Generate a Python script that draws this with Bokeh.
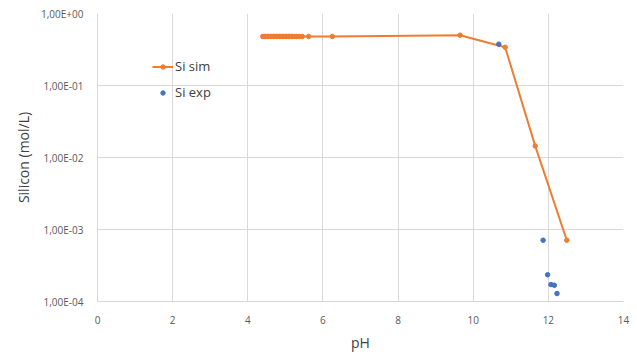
from bokeh.plotting import figure
from bokeh.embed import file_html
from bokeh.resources import INLINE
from bokeh.models import FixedTicker, CustomJSTickFormatter, Legend, LegendItem, Range1d

# Simulated silicon (mol/L) vs pH
sim_ph = [4.40, 4.44, 4.48, 4.52, 4.56, 4.60, 4.64, 4.68, 4.72, 4.76, 4.80, 4.84,
          4.88, 4.92, 4.96, 5.00, 5.04, 5.08, 5.12, 5.16, 5.20, 5.25, 5.30, 5.38,
          5.45, 5.62, 6.25, 9.65, 10.85, 11.65, 12.49]
sim_si = [0.48, 0.48, 0.48, 0.48, 0.48, 0.48, 0.48, 0.48, 0.48, 0.48, 0.48, 0.48,
          0.48, 0.48, 0.48, 0.48, 0.48, 0.48, 0.48, 0.48, 0.48, 0.48, 0.48, 0.48,
          0.48, 0.48, 0.48, 0.50, 0.34, 0.0145, 0.00071]
# Experimental
exp_ph = [10.68, 11.86, 11.98, 12.07, 12.16, 12.23]
exp_si = [0.375, 0.00071, 0.000235, 0.000172, 0.000168, 0.000129]

x_ticks = [0, 2, 4, 6, 8, 10, 12, 14]
y_ticks = [1e-4, 1e-3, 1e-2, 1e-1, 1e0]

ORANGE = "#ED7D31"
BLUE = "#4472C4"
FONT = "Open Sans"

p = figure(width=637, height=354, y_axis_type="log", output_backend="svg",
           toolbar_location=None, x_range=Range1d(0, 14), y_range=Range1d(1e-4, 1),
           min_border_left=97, min_border_right=14, min_border_top=13, min_border_bottom=50)
p.outline_line_color = None
p.background_fill_color = "white"

p.xaxis.ticker = FixedTicker(ticks=x_ticks)
p.yaxis.ticker = FixedTicker(ticks=y_ticks)
p.yaxis.formatter = CustomJSTickFormatter(code="""
var s = tick.toExponential(2).replace('.', ',');
var m = s.match(/^(.*)e([+-])(\\d+)$/);
var e = m[3].length < 2 ? '0' + m[3] : m[3];
return m[1] + 'E' + m[2] + e;
""")

for ax in (p.xaxis[0], p.yaxis[0]):
    ax.axis_line_color = "#d9d9d9"
    ax.major_tick_line_color = None
    ax.minor_tick_line_color = None
    ax.major_label_text_font = FONT
    ax.major_label_text_font_size = "10px"
    ax.major_label_text_color = "#595959"
    ax.axis_label_text_font = FONT
    ax.axis_label_text_font_size = "14px"
    ax.axis_label_text_font_style = "normal"
    ax.axis_label_text_color = "#404040"

p.xaxis.axis_label = "pH"
p.yaxis.axis_label = "Silicon (mol/L)"
p.xaxis.major_label_standoff = 8
p.yaxis.major_label_standoff = 8
p.xaxis.axis_label_standoff = 6

p.xgrid.grid_line_color = "#d9d9d9"
p.ygrid.grid_line_color = "#d9d9d9"
p.ygrid.minor_grid_line_color = None

l1 = p.line(sim_ph, sim_si, line_color=ORANGE, line_width=2)
s1 = p.scatter(sim_ph, sim_si, size=4.5, fill_color=ORANGE, line_color=ORANGE)
s2 = p.scatter(exp_ph, exp_si, size=4.5, fill_color=BLUE, line_color=BLUE)

legend = Legend(items=[LegendItem(label="Si sim", renderers=[l1, s1]),
                       LegendItem(label="Si exp", renderers=[s2])],
                location=(55, 199), padding=0, margin=0, spacing=6,
                border_line_alpha=0, background_fill_alpha=0,
                label_text_font=FONT, label_text_font_size="13px",
                label_text_color="#404040", glyph_width=21, glyph_height=11,
                label_height=20, label_standoff=2)
p.add_layout(legend)

open("out.html", "w").write(file_html(p, INLINE))
